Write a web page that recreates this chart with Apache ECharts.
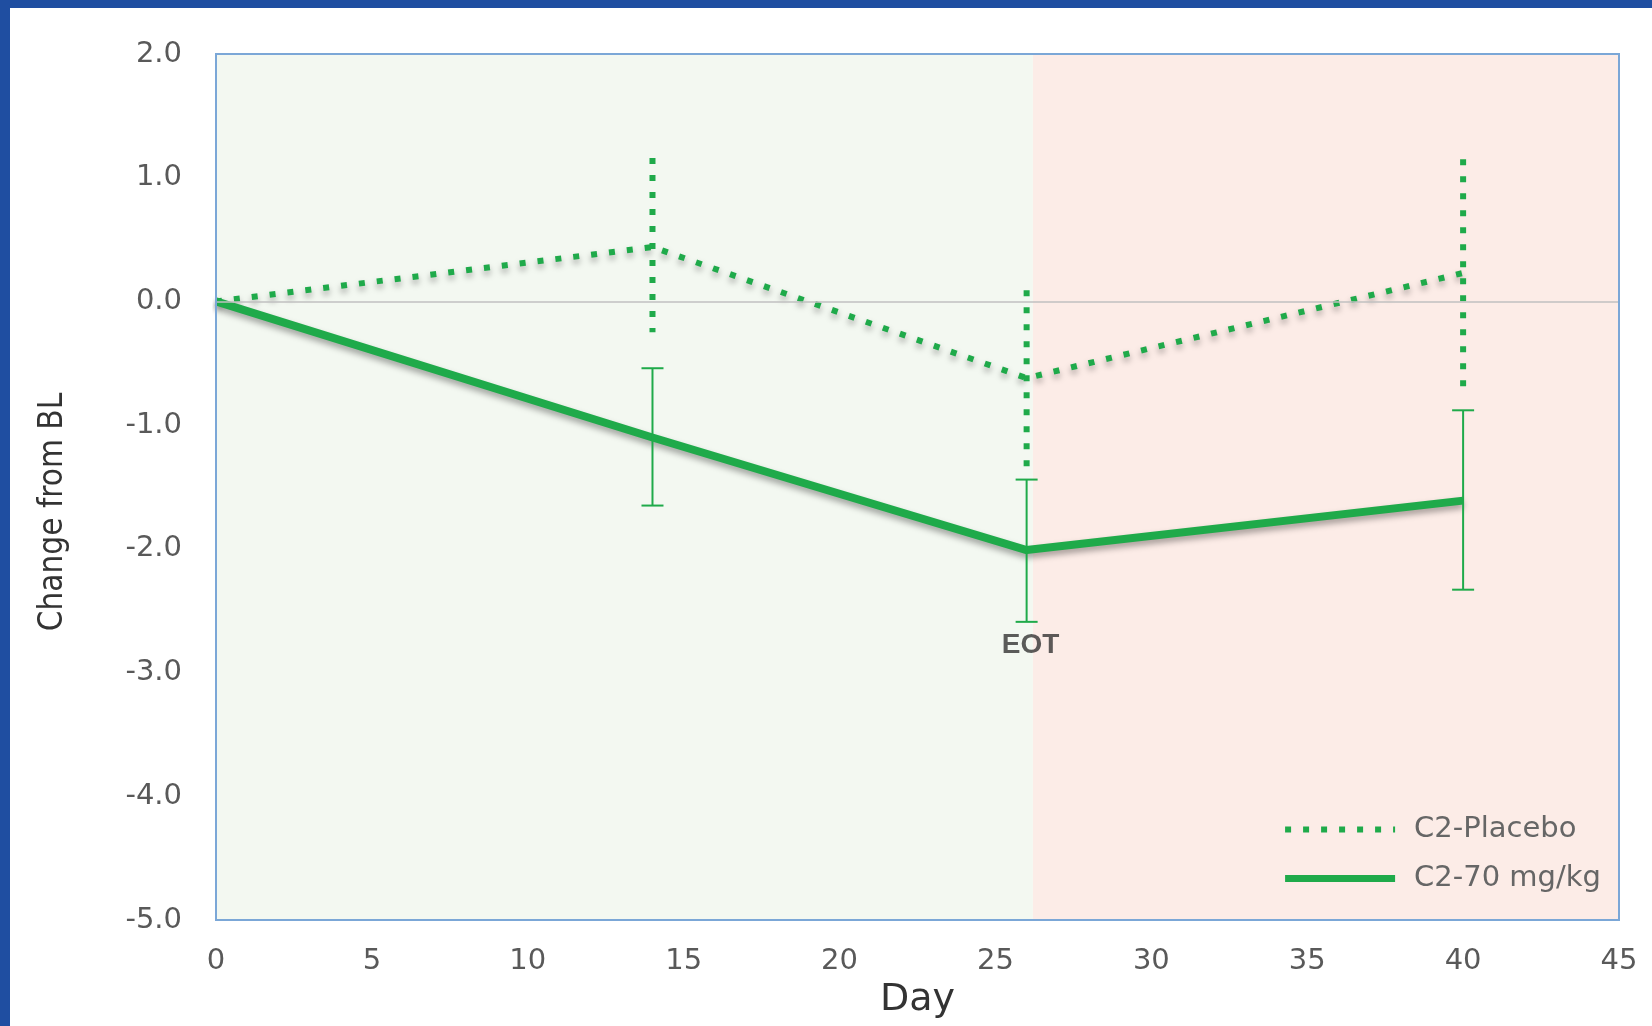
<!DOCTYPE html>
<html>
<head>
<meta charset="utf-8">
<script src="https://cdn.jsdelivr.net/npm/echarts@6/dist/echarts.min.js"></script>
<style>
html,body{margin:0;padding:0;background:#fff;}
#chart{position:absolute;left:0;top:0;width:1652px;height:1026px;}
#topbar{position:absolute;left:0;top:0;width:1652px;height:8px;background:#1f4ea1;z-index:5;}
#leftbar{position:absolute;left:0;top:0;width:10px;height:1026px;background:#1f4ea1;z-index:5;}
</style>
</head>
<body>
<div id="chart"></div>
<div id="topbar"></div>
<div id="leftbar"></div>
<script>
// ---- data ----
const days = [0, 14, 26, 40];
const placeboMean  = [0, 0.44, -0.62, 0.23];
const placeboUpper = [null, 1.16, 0.09, 1.15];
const placeboLower = [null, -0.25, -1.35, -0.69];
const drugMean  = [0, -1.10, -2.01, -1.61];
const drugUpper = [null, -0.54, -1.44, -0.88];
const drugLower = [null, -1.65, -2.59, -2.33];
const seriesNames = ['C2-Placebo', 'C2-70 mg/kg'];
const phaseBreak = 26.2;
const eotDay = 26;
const eotLabel = 'EOT';
const xTicks = {min: 0, max: 45, interval: 5};
const yTicks = {min: -5, max: 2, interval: 1};

const green = '#1faa4a';
const dotDash = [6, 12];
const pairs = (m) => days.map((d, i) => [d, m[i]]);
const errData = (u, l) => days.map((d, i) => [d, u[i], l[i]]).filter(r => r[1] !== null);

function errRender(dotted) {
  return function (params, api) {
    const x = api.value(0);
    const top = api.coord([x, api.value(1)]);
    const bot = api.coord([x, api.value(2)]);
    const children = [{
      type: 'line',
      shape: {x1: top[0], y1: top[1], x2: bot[0], y2: bot[1]},
      style: dotted ? {stroke: green, lineWidth: 6, lineDash: [6, 11]} : {stroke: green, lineWidth: 2}
    }];
    if (!dotted) {
      const w = 11;
      children.push({type: 'line', shape: {x1: top[0] - w, y1: top[1], x2: top[0] + w, y2: top[1]}, style: {stroke: green, lineWidth: 2}});
      children.push({type: 'line', shape: {x1: bot[0] - w, y1: bot[1], x2: bot[0] + w, y2: bot[1]}, style: {stroke: green, lineWidth: 2}});
    }
    return {type: 'group', children};
  };
}

const chart = echarts.init(document.getElementById('chart'));
const shadow = {shadowColor: 'rgba(0,0,0,0.35)', shadowBlur: 6, shadowOffsetY: 4};
chart.setOption({
  animation: false,
  backgroundColor: '#fff',
  textStyle: {fontFamily: 'DejaVu Sans'},
  grid: {left: 216, right: 33, top: 54, bottom: 106, show: true, z: 10,
         backgroundColor: 'transparent', borderColor: '#7ba7d7', borderWidth: 2},
  xAxis: {
    type: 'value', min: xTicks.min, max: xTicks.max, interval: xTicks.interval,
    name: 'Day', nameLocation: 'middle', nameGap: 54,
    nameTextStyle: {fontSize: 38, color: '#333', fontFamily: 'DejaVu Sans'},
    axisLine: {show: false}, axisTick: {show: false}, splitLine: {show: false},
    axisLabel: {fontSize: 29, color: '#595959', margin: 27}
  },
  yAxis: {
    type: 'value', min: yTicks.min, max: yTicks.max, interval: yTicks.interval,
    name: 'Change from BL', nameLocation: 'middle', nameGap: 146,
    nameTextStyle: {fontSize: 33, color: '#333', fontFamily: 'DejaVu Sans Condensed', padding: [0, 50, 0, 0]},
    axisLine: {show: false}, axisTick: {show: false}, splitLine: {show: false},
    axisLabel: {fontSize: 29, color: '#595959', margin: 34, formatter: v => v.toFixed(1)}
  },
  legend: {
    orient: 'vertical', right: 46, bottom: 128, itemWidth: 110, itemHeight: 20, itemGap: 20,
    data: [
      {name: seriesNames[0], itemStyle: {opacity: 0}, lineStyle: {width: 6, type: dotDash, color: green}},
      {name: seriesNames[1], itemStyle: {opacity: 0}, lineStyle: {width: 7, type: 'solid', color: green}}
    ],
    textStyle: {fontSize: 29, color: '#666', padding: [0, 0, 0, 14]}
  },
  series: [
    {
      name: 'bg', type: 'line', data: [], silent: true, z: 0,
      markArea: {silent: true, data: [
        [{xAxis: xTicks.min, itemStyle: {color: '#f3f8f1'}}, {xAxis: phaseBreak}],
        [{xAxis: phaseBreak, itemStyle: {color: '#fcece7'}}, {xAxis: xTicks.max}]
      ]},
      markLine: {silent: true, symbol: 'none', label: {show: false},
        lineStyle: {color: '#c0c0c0', width: 1.5, type: 'solid'}, data: [{yAxis: 0}]}
    },
    {
      name: seriesNames[0], type: 'line', data: pairs(placeboMean), symbol: 'none', z: 3,
      lineStyle: Object.assign({color: green, width: 6, type: dotDash}, shadow),
      itemStyle: {color: green}
    },
    {
      name: seriesNames[1], type: 'line', data: pairs(drugMean), symbol: 'none', z: 3,
      lineStyle: Object.assign({color: green, width: 8}, shadow),
      itemStyle: {color: green}
    },
    {
      type: 'custom', data: errData(placeboUpper, placeboLower), renderItem: errRender(true), z: 4,
      encode: {x: 0, y: [1, 2]}
    },
    {
      type: 'custom', data: errData(drugUpper, drugLower), renderItem: errRender(false), z: 4,
      encode: {x: 0, y: [1, 2]}
    },
    {
      type: 'scatter', symbolSize: 0, z: 5, silent: true,
      data: [[eotDay, drugLower[days.indexOf(eotDay)]]],
      label: {show: true, position: 'bottom', distance: 9, offset: [4, 0], formatter: eotLabel,
        fontSize: 28, fontWeight: 'bold', color: '#333', fontFamily: 'Liberation Sans'}
    }
  ]
});
</script>
</body>
</html>
